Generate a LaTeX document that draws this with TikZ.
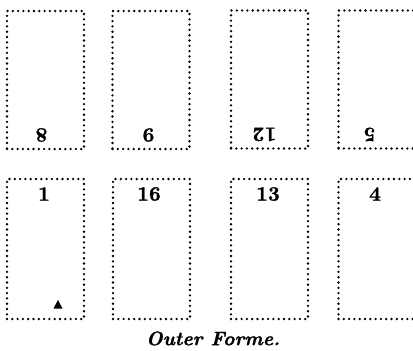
\documentclass[tikz,border=0pt]{standalone}
\usepackage{fontspec}
\newfontfamily\heavyfont{lmroman10-bold}[Extension=.otf, FakeBold=1.2]
\newfontfamily\heavyitfont{lmroman10-bolditalic}[Extension=.otf, FakeBold=1.2]
\begin{document}
\begin{tikzpicture}[x=1pt,y=-1pt,
  page/.style={draw, line width=2.6pt, dash pattern=on 0pt off 5.3pt, line cap=round,
    minimum width=77pt, minimum height=138pt, inner sep=0pt, outer sep=0pt},
  folio/.style={font=\fontsize{20.5}{20}\heavyfont, inner sep=0pt},
  caption/.style={font=\fontsize{19.5}{20}\heavyitfont, inner sep=0pt}]
\useasboundingbox (0,0) rectangle (413,351);
\clip (0,0) rectangle (413,351);
% top row (pages 8, 9, 12, 5 upside down)
\node[page] (p8)  at (45.5,80) {};
\node[page] (p9)  at (151,80) {};
\node[page] (p12) at (269.5,79.5) {};
\node[page] (p5)  at (377,79.5) {};
% bottom row
\node[page, minimum height=140pt] (p1)  at (45.5,249) {};
\node[page, minimum height=140pt] (p16) at (151.5,249) {};
\node[page, minimum height=140pt] (p13) at (269.5,249) {};
\node[page, minimum height=140pt] (p4)  at (377,249) {};
% folios
\node[folio, rotate=180] (f8)  at (41.5,135) {8};
\node[folio, rotate=180] (f9)  at (148.5,135) {9};
\node[folio, rotate=180] (f12) at (264.5,134.5) {12};
\node[folio, rotate=180] (f5)  at (369.5,134.5) {5};
\node[folio] (f1)  at (44,194) {1};
\node[folio] (f16) at (149,194) {16};
\node[folio] (f13) at (268,194) {13};
\node[folio] (f4)  at (375,194) {4};
% signature mark
\fill (53.5,308.5) -- (62.5,308.5) -- (58,300) -- cycle;
% caption
\node[caption] (cap) at (213,338.5) {Outer Forme.};
\end{tikzpicture}
\end{document}
